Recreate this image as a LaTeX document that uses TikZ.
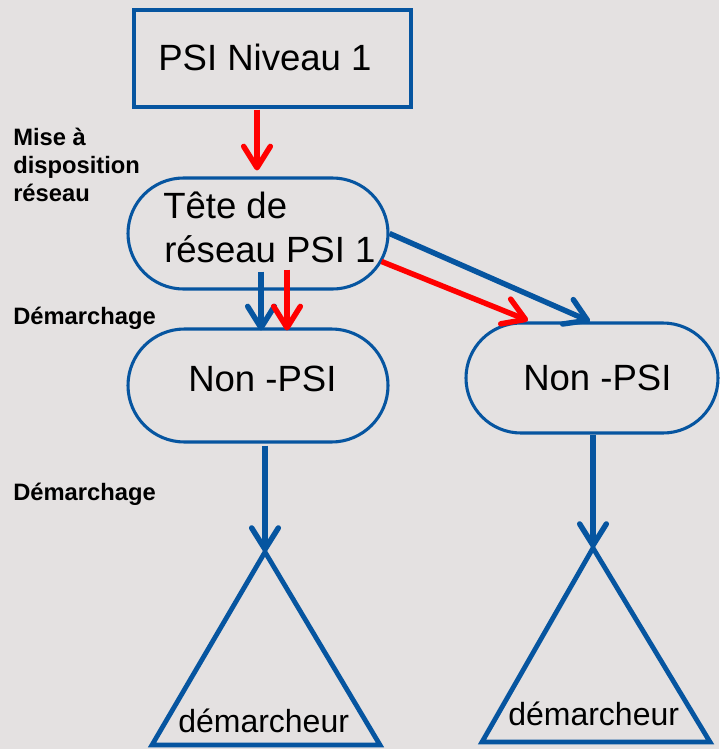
\documentclass[tikz,border=0pt]{standalone}
\usepackage{fontspec}
\setmainfont{Liberation Sans}
\usetikzlibrary{shapes.misc,arrows.meta,calc}
\definecolor{bgc}{RGB}{228,225,225}
\definecolor{bblue}{RGB}{6,85,160}
\definecolor{rred}{RGB}{255,0,0}
\tikzset{
  boxline/.style={draw=bblue,line width=2.3pt},
  psibox/.style={boxline,rectangle,minimum width=207.75pt,minimum height=72.75pt,inner sep=0pt},
  stadium/.style={boxline,rounded rectangle,inner sep=0pt},
  maintext/.style={anchor=base west,inner sep=0pt,font=\fontsize{27.4pt}{32pt}\selectfont},
  smalltext/.style={anchor=base west,inner sep=0pt,font=\fontsize{24pt}{28pt}\selectfont},
  lbl/.style={anchor=base west,inner sep=0pt,font=\fontsize{17.8pt}{21pt}\selectfont\bfseries},
  barrow/.style={draw=bblue,line width=4.1pt,-{Straight Barb[length=16pt,width=20pt,round]}},
  rarrow/.style={draw=rred,line width=4.1pt,-{Straight Barb[length=16pt,width=20pt,round]}},
  tri/.style={draw=bblue,line width=3.6pt,line join=miter}
}
\begin{document}
\begin{tikzpicture}[x=0.75pt,y=-0.75pt]
\fill[bgc] (0,0) rectangle (719,749);
\useasboundingbox (0,0) rectangle (719,749);

% shapes
\node[psibox] (psi) at (272.5,58.5) {};
\node[stadium,minimum width=195pt,minimum height=83.25pt] (tete) at (258,233.5) {};
\node[stadium,minimum width=195pt,minimum height=84.75pt] (np1) at (258,385.5) {};
\node[stadium,minimum width=189pt,minimum height=82.5pt] (np2) at (592,378) {};

\coordinate (t1) at (265,552);
\coordinate (t2) at (593,548);
\draw[tri] (t1) -- (380,745) -- (152,745) -- cycle;
\draw[tri] (t2) -- (710,742) -- (482,742) -- cycle;

% texts
\node[maintext] (psit) at (158,70) {PSI Niveau 1};
\node[maintext] (tet1) at (163,218) {Tête de};
\node[maintext] (tet2) at (164,262) {réseau PSI 1};
\node[maintext] (np1t) at (188,391) {Non -PSI};
\node[maintext] (np2t) at (523,390) {Non -PSI};
\node[smalltext] (d1t) at (178,732) {démarcheur};
\node[smalltext] (d2t) at (508,725) {démarcheur};

\node[lbl] (l1) at (13,145) {Mise à};
\node[lbl] (l2) at (13,173) {disposition};
\node[lbl] (l3) at (13,201) {réseau};
\node[lbl] (l4) at (13,324) {Démarchage};
\node[lbl] (l5) at (13,500) {Démarchage};

% connectors
\draw[rarrow] ($(psi.south)+(-15.5,1)$) -- ($(tete.north)+(-1,-6)$);
\draw[barrow] ($(tete.south)+(3,-19)$) -- ($(np1.north)+(3,3)$);
\draw[rarrow] ($(tete.south)+(29,-21)$) -- ($(np1.north)+(29,3)$);
\draw[barrow] ($(tete.east)+(0,0)$) -- ($(np2.north)+(-2,0)$);
\draw[rarrow] ($(tete.east)+(-8,28)$) -- ($(np2.north)+(-64,-1)$);
\draw[barrow] ($(np1.south)+(7,2)$) -- (t1);
\draw[barrow] ($(np2.south)+(1,0)$) -- (t2);
\end{tikzpicture}
\end{document}
